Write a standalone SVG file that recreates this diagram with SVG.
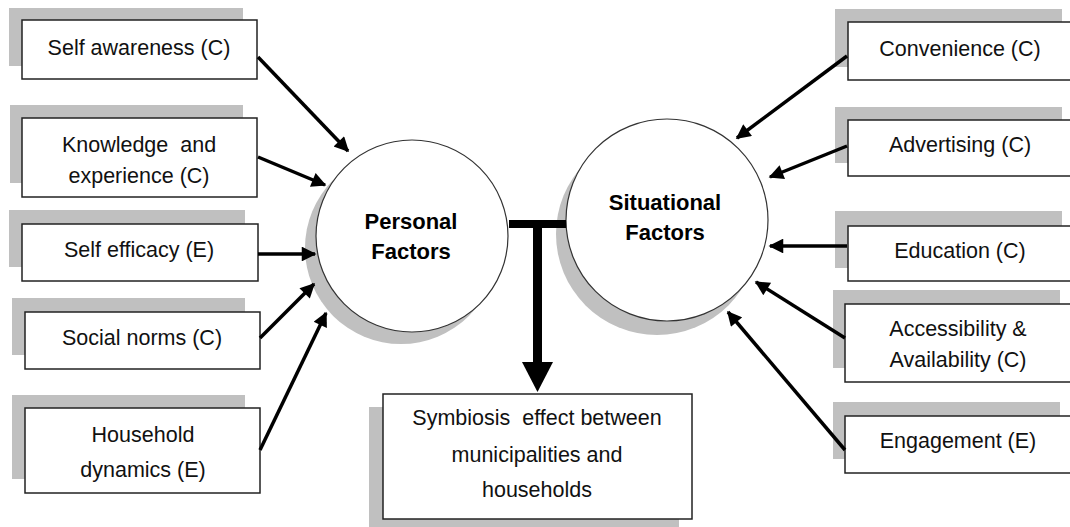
<svg xmlns="http://www.w3.org/2000/svg" width="1070" height="527" viewBox="0 0 1070 527">
<defs>
<style>
.sh{fill:#c0c0c0;stroke:none}
.bx{fill:#fff;stroke:#222;stroke-width:1.5}
.ci{fill:#fff;stroke:#333;stroke-width:1.2}
.t{font-family:"Liberation Sans",Arial,sans-serif;font-size:21.5px;fill:#111;text-anchor:middle;white-space:pre}
.tb{font-family:"Liberation Sans",Arial,sans-serif;font-size:22px;font-weight:bold;fill:#000;text-anchor:middle}
.ar{stroke:#000;stroke-width:3.5;fill:none;marker-end:url(#ah)}
</style>
<marker id="ah" viewBox="0 0 10 10" refX="9" refY="5" markerWidth="4.8" markerHeight="4.2" orient="auto" markerUnits="strokeWidth">
<path d="M0,0 L10,5 L0,10 z" fill="#000"/>
</marker>
</defs>
<rect width="1070" height="527" fill="#fff"/>

<g id="self-awareness">
<rect class="sh" x="9" y="8" width="234" height="58"/>
<rect class="bx" x="22" y="20" width="235" height="59"/>
<text class="t" x="139" y="55">Self awareness (C)</text>
</g>
<g id="knowledge">
<rect class="sh" x="10" y="105" width="233" height="78"/>
<rect class="bx" x="22" y="118" width="235" height="79"/>
<text class="t" x="139" y="152" xml:space="preserve">Knowledge  and</text>
<text class="t" x="139" y="183">experience (C)</text>
</g>
<g id="self-efficacy">
<rect class="sh" x="9" y="210" width="236" height="57"/>
<rect class="bx" x="22" y="224" width="236" height="57"/>
<text class="t" x="139" y="257">Self efficacy (E)</text>
</g>
<g id="social-norms">
<rect class="sh" x="12" y="298" width="233" height="57"/>
<rect class="bx" x="25" y="312" width="235" height="57"/>
<text class="t" x="142" y="345">Social norms (C)</text>
</g>
<g id="household">
<rect class="sh" x="12" y="395" width="233" height="84"/>
<rect class="bx" x="25" y="408" width="235" height="85"/>
<text class="t" x="143" y="442">Household</text>
<text class="t" x="143" y="477">dynamics (E)</text>
</g>

<g id="personal-factors">
<circle class="sh" cx="401" cy="248" r="96"/>
<circle class="ci" cx="412" cy="236" r="96"/>
<text class="tb" x="411" y="229">Personal</text>
<text class="tb" x="411" y="259">Factors</text>
</g>
<g id="situational-factors">
<circle class="sh" cx="657" cy="234" r="101"/>
<circle class="ci" cx="667" cy="220" r="101"/>
<text class="tb" x="665" y="210">Situational</text>
<text class="tb" x="665" y="240">Factors</text>
</g>

<g id="convenience">
<rect class="sh" x="835" y="9" width="227" height="58"/>
<rect class="bx" x="848" y="22" width="230" height="58"/>
<text class="t" x="960" y="56">Convenience (C)</text>
</g>
<g id="advertising">
<rect class="sh" x="835" y="107" width="227" height="56"/>
<rect class="bx" x="848" y="120" width="230" height="56"/>
<text class="t" x="960" y="152">Advertising (C)</text>
</g>
<g id="education">
<rect class="sh" x="835" y="211" width="227" height="57"/>
<rect class="bx" x="848" y="226" width="230" height="55"/>
<text class="t" x="960" y="258">Education (C)</text>
</g>
<g id="accessibility">
<rect class="sh" x="833" y="290" width="227" height="78"/>
<rect class="bx" x="845" y="304" width="233" height="78"/>
<text class="t" x="958" y="336">Accessibility &amp;</text>
<text class="t" x="958" y="367">Availability (C)</text>
</g>
<g id="engagement">
<rect class="sh" x="833" y="402" width="227" height="57"/>
<rect class="bx" x="845" y="416" width="233" height="57"/>
<text class="t" x="958" y="448">Engagement (E)</text>
</g>

<g id="symbiosis">
<rect class="sh" x="369" y="407" width="310" height="125"/>
<rect class="bx" x="383" y="394" width="309" height="125"/>
<text class="t" x="537" y="425" xml:space="preserve">Symbiosis  effect between</text>
<text class="t" x="537" y="462">municipalities and</text>
<text class="t" x="537" y="497">households</text>
</g>

<g id="connectors">
<line class="ar" x1="258" y1="57" x2="348" y2="151"/>
<line class="ar" x1="258" y1="157" x2="325" y2="185"/>
<line class="ar" x1="258" y1="254" x2="315" y2="254"/>
<line class="ar" x1="260" y1="338" x2="314" y2="284"/>
<line class="ar" x1="260" y1="450" x2="326" y2="313"/>
<line class="ar" x1="847" y1="56" x2="737" y2="138"/>
<line class="ar" x1="847" y1="146" x2="770" y2="177"/>
<line class="ar" x1="847" y1="246" x2="770" y2="246"/>
<line class="ar" x1="845" y1="338" x2="756" y2="282"/>
<line class="ar" x1="845" y1="450" x2="728" y2="312"/>
<rect x="509" y="220" width="57" height="8" fill="#000"/>
<rect x="533" y="222" width="9" height="142" fill="#000"/>
<path d="M522,362 L553,362 L537.5,392 z" fill="#000"/>
</g>
</svg>
